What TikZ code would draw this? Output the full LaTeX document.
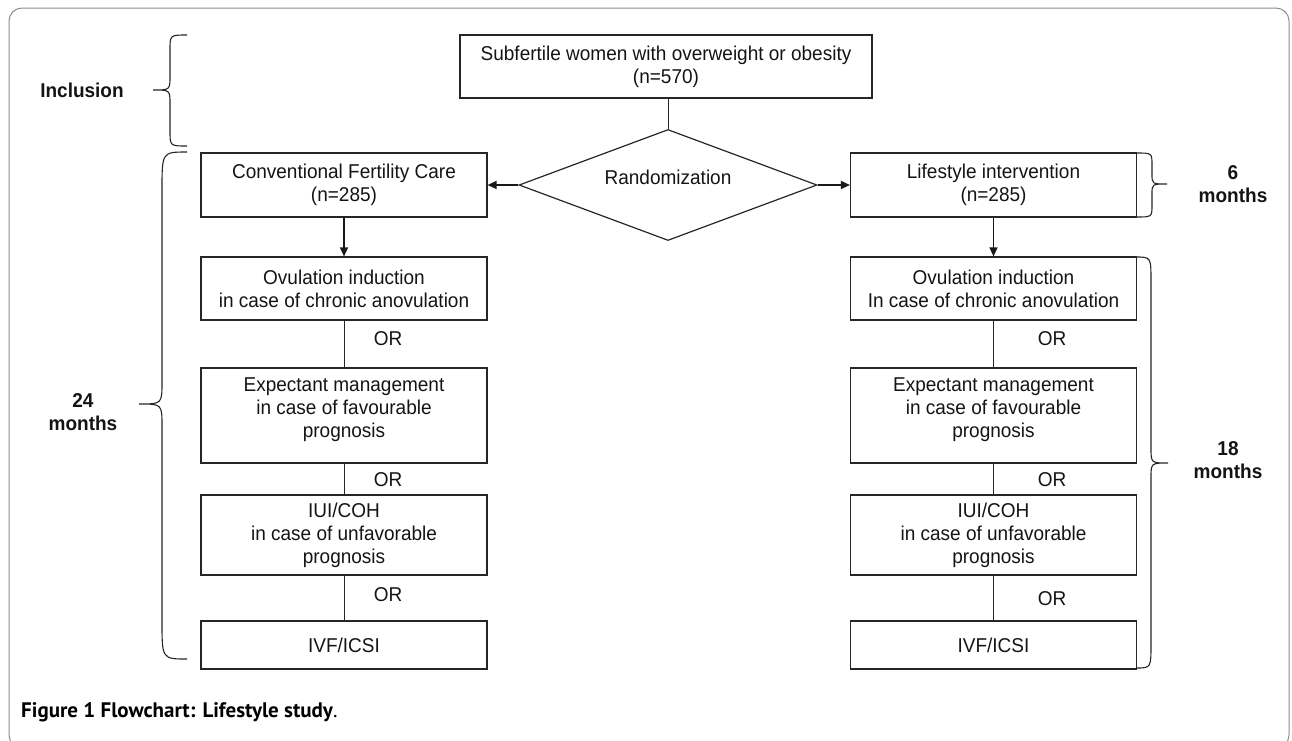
\documentclass[tikz,border=0pt]{standalone}
\usepackage{fontspec}
\setmainfont[FakeStretch=0.95]{Liberation Sans}
\newfontfamily\capfont{PT Sans}
\usetikzlibrary{arrows.meta,shapes.geometric}
\begin{document}
\begin{tikzpicture}[x=1pt,y=-1pt,
  every node/.style={font=\fontsize{20}{23}\selectfont, text=black!92},
  box/.style={draw=black!85, line width=1.2pt, minimum width=286pt, align=center, inner sep=0pt},
  lab/.style={font=\fontsize{20}{23}\selectfont\bfseries, align=center},
  ortxt/.style={inner sep=0pt},
  arr/.style={line width=1.3pt, black!90, -{Triangle[length=9pt,width=8pt]}},
  lnk/.style={line width=1pt, black!85},
  brc/.style={line width=1.1pt, black!85}
]
\useasboundingbox (0,0) rectangle (1292,740);
\begin{scope}
\clip (0,0) rectangle (1292,740);
\draw[black!45, line width=1pt, rounded corners=13pt] (9,8) rectangle (1289,748);
\end{scope}

% nodes
\node[box, minimum width=412pt, minimum height=63pt] (top) at (666,66.5)
  {Subfertile women with overweight or obesity\\(n=570)};
\node[draw=black!85, line width=1.2pt, shape=diamond, minimum width=298pt, minimum height=111pt, inner sep=0pt,
  label={[yshift=8pt]center:Randomization}] (rand) at (668,185) {};
\node[box, minimum height=64pt] (conv) at (344,185) {Conventional Fertility Care\\(n=285)};
\node[box, minimum height=64pt] (life) at (993.5,185) {Lifestyle intervention\\(n=285)};

\node[box, minimum height=63pt] (lov) at (344,288.5) {Ovulation induction\\in case of chronic anovulation};
\node[box, minimum height=95pt, label={[align=center,yshift=6pt]center:Expectant management\\in case of favourable\\prognosis}] (lex) at (344,415.5) {};
\node[box, minimum height=80pt] (liu) at (344,535) {IUI/COH\\in case of unfavorable\\prognosis};
\node[box, minimum height=48pt] (liv) at (344,645) {IVF/ICSI};

\node[box, minimum height=63pt] (rov) at (993.5,288.5) {Ovulation induction\\In case of chronic anovulation};
\node[box, minimum height=95pt, label={[align=center,yshift=6pt]center:Expectant management\\in case of favourable\\prognosis}] (rex) at (993.5,415.5) {};
\node[box, minimum height=80pt] (riu) at (993.5,535) {IUI/COH\\in case of unfavorable\\prognosis};
\node[box, minimum height=48pt] (riv) at (993.5,645) {IVF/ICSI};

% OR labels
\node[ortxt] (lor1) at (388,339) {OR};
\node[ortxt] (lor2) at (388,480) {OR};
\node[ortxt] (lor3) at (388,595) {OR};
\node[ortxt] (ror1) at (1052,339) {OR};
\node[ortxt] (ror2) at (1052,480) {OR};
\node[ortxt] (ror3) at (1052,599) {OR};

% side labels
\node[lab] (incl) at (82,90) {Inclusion};
\node[lab] (m24) at (83,412.5) {24\\months};
\node[lab] (m6) at (1233,184) {6\\months};
\node[lab] (m18) at (1228,460.5) {18\\months};

% caption
\node[anchor=west, inner sep=0pt, font=\capfont\fontsize{21}{24}\selectfont, text=black] (cap) at (21,712)
  {\textbf{Figure 1 Flowchart: Lifestyle study}.};

% connectors
\draw[lnk] (top.south -| rand.north) -- (rand.north);
\draw[arr] (rand.west) -- (conv.east);
\draw[arr] (rand.east) -- (life.west);
\draw[arr] (conv.south) -- (lov.north);
\draw[arr] (life.south) -- (rov.north);
\draw[lnk] (lov.south) -- (lex.north);
\draw[lnk] (lex.south) -- (liu.north);
\draw[lnk] (liu.south) -- (liv.north);
\draw[lnk] (rov.south) -- (rex.north);
\draw[lnk] (rex.south) -- (riu.north);
\draw[lnk] (riu.south) -- (riv.north);

% braces
\draw[brc] (187,35) .. controls (170,35) .. (170,50) -- (170,76) .. controls (170,90) .. (153,90)
  .. controls (170,90) .. (170,104) -- (170,131) .. controls (170,146) .. (187,146);
\draw[brc] (187,152) .. controls (162,152) .. (162,190) -- (162,382) .. controls (162,404) .. (139,404)
  .. controls (162,404) .. (162,426) -- (162,621) .. controls (162,659) .. (187,659);
\draw[brc] (1136,153) .. controls (1152,153) .. (1152,165) -- (1152,174) .. controls (1152,184) .. (1167,184)
  .. controls (1152,184) .. (1152,194) -- (1152,205) .. controls (1152,217) .. (1136,217);
\draw[brc] (1136,257) .. controls (1151,257) .. (1151,282) -- (1151,448) .. controls (1151,463) .. (1168,463)
  .. controls (1151,463) .. (1151,478) -- (1151,643) .. controls (1151,668) .. (1136,668);
\end{tikzpicture}
\end{document}
